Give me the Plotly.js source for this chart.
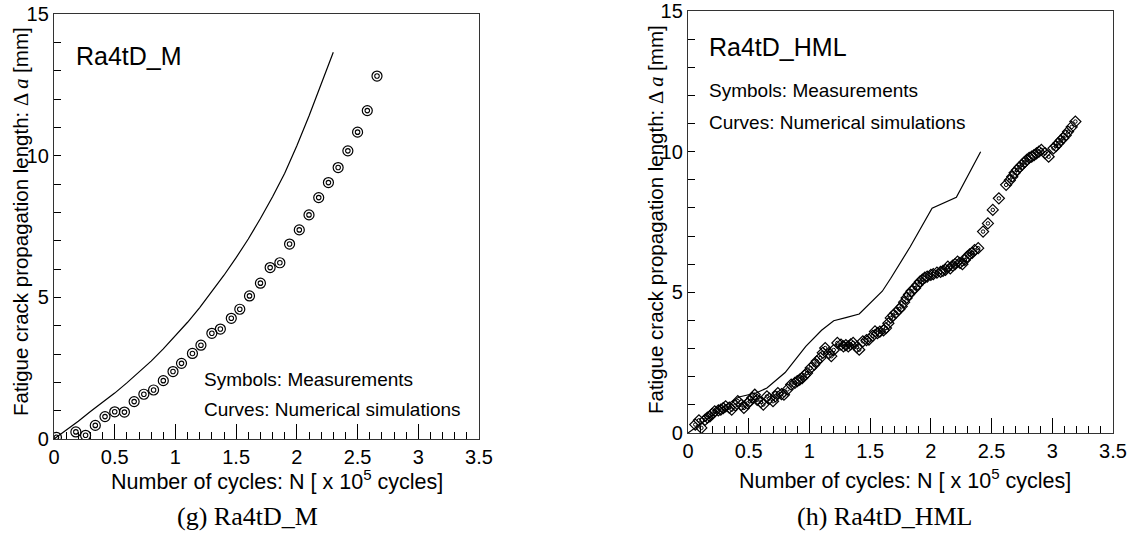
<!DOCTYPE html>
<html>
<head>
<meta charset="utf-8">
<script src="https://cdn.plot.ly/plotly-3.0.1.min.js"></script>
<style>html,body{margin:0;padding:0;background:#fff;}#chart{width:1134px;height:545px;}</style>
</head>
<body>
<div id="chart"></div>
<script>
// (g) Ra4tD_M — measurements
const mX = [0.02,0.18,0.26,0.34,0.42,0.50,0.58,0.66,0.74,0.82,0.90,0.98,1.05,1.14,1.21,1.30,1.37,1.46,1.53,1.61,1.70,1.78,1.86,1.94,2.02,2.10,2.18,2.26,2.34,2.42,2.50,2.58,2.66];
const mY = [0.06,0.25,0.13,0.48,0.79,0.96,0.95,1.32,1.58,1.73,2.06,2.38,2.67,3.02,3.31,3.73,3.88,4.26,4.58,5.05,5.50,6.05,6.22,6.88,7.38,7.91,8.52,9.05,9.58,10.17,10.83,11.59,12.81];
// (g) Ra4tD_M — simulation
const mSimX = [0,0.1,0.2,0.3,0.4,0.5,0.6,0.7,0.8,0.9,1.0,1.1,1.2,1.3,1.4,1.5,1.6,1.7,1.8,1.9,2.0,2.1,2.2,2.3];
const mSimY = [0,0.31,0.63,0.97,1.28,1.62,1.98,2.35,2.75,3.18,3.64,4.12,4.64,5.21,5.78,6.40,7.06,7.78,8.55,9.38,10.35,11.40,12.50,13.65];

// (h) Ra4tD_HML — measurements
const hX = [0.06,0.09,0.11,0.14,0.16,0.18,0.20,0.22,0.25,0.27,0.29,0.31,0.34,0.36,0.39,0.41,0.44,0.46,0.49,0.51,0.53,0.55,0.57,0.60,0.62,0.65,0.67,0.70,0.72,0.74,0.77,0.79,0.82,0.85,0.88,0.90,0.92,0.94,0.96,0.98,1.01,1.04,1.06,1.09,1.11,1.13,1.16,1.18,1.20,1.23,1.26,1.28,1.30,1.32,1.34,1.36,1.39,1.41,1.44,1.47,1.49,1.52,1.54,1.56,1.58,1.61,1.63,1.65,1.67,1.69,1.71,1.74,1.76,1.78,1.80,1.82,1.84,1.87,1.89,1.91,1.93,1.95,1.97,2.00,2.02,2.05,2.08,2.10,2.12,2.14,2.16,2.18,2.20,2.22,2.24,2.26,2.28,2.30,2.32,2.34,2.36,2.39,2.43,2.47,2.51,2.56,2.62,2.65,2.67,2.69,2.71,2.73,2.75,2.77,2.79,2.81,2.83,2.85,2.87,2.89,2.91,2.94,2.97,3.01,3.03,3.05,3.07,3.09,3.11,3.13,3.16,3.19];
const hY = [0.30,0.45,0.18,0.47,0.55,0.59,0.68,0.77,0.80,0.83,0.88,0.95,0.90,0.83,0.98,1.13,1.00,0.89,1.05,1.13,1.25,1.36,1.18,1.10,1.01,1.30,1.22,1.13,1.30,1.42,1.38,1.36,1.55,1.72,1.78,1.84,1.90,1.95,2.05,2.13,2.31,2.43,2.55,2.67,2.85,3.02,2.84,2.73,2.95,3.20,3.14,3.08,3.12,3.08,3.15,3.20,3.05,2.96,3.26,3.30,3.32,3.45,3.61,3.55,3.60,3.65,3.73,3.90,4.09,4.18,4.27,4.40,4.50,4.65,4.80,4.92,5.04,5.15,5.27,5.38,5.45,5.52,5.56,5.62,5.65,5.70,5.73,5.76,5.80,5.91,5.85,5.95,6.00,6.09,6.05,6.00,6.15,6.27,6.35,6.40,6.50,6.57,7.16,7.45,7.93,8.34,8.82,8.98,9.11,9.25,9.35,9.45,9.53,9.62,9.71,9.78,9.82,9.88,9.94,10.00,10.06,9.95,9.82,10.12,10.20,10.30,10.40,10.48,10.58,10.71,10.88,11.07];
// (h) Ra4tD_HML — simulation
const hSimX = [0,0.1,0.2,0.3,0.42,0.56,0.65,0.8,0.97,1.1,1.2,1.3,1.41,1.6,1.67,1.83,2.01,2.21,2.41];
const hSimY = [0,0.30,0.62,0.95,1.28,1.42,1.60,2.15,3.08,3.65,3.99,4.10,4.23,5.04,5.50,6.62,7.99,8.38,10.0];

const xTicks = [0,0.5,1,1.5,2,2.5,3,3.5];
const yTicks = [0,5,10,15];

const FONT = 'Liberation Sans, Arial, sans-serif';
const SERIF = 'Liberation Serif, Times New Roman, serif';

const lineStyle = {color:'#000', width:1.2};
const traces = [
  {x:mSimX, y:mSimY, mode:'lines', line:lineStyle, xaxis:'x', yaxis:'y'},
  {x:mX, y:mY, mode:'markers', marker:{symbol:'circle-open', size:10, color:'#000', line:{width:1.2, color:'#000'}}, xaxis:'x', yaxis:'y'},
  {x:mX, y:mY, mode:'markers', marker:{symbol:'circle-open', size:4.5, color:'#000', line:{width:1.1, color:'#000'}}, xaxis:'x', yaxis:'y'},
  {x:hSimX, y:hSimY, mode:'lines', line:lineStyle, xaxis:'x2', yaxis:'y2'},
  {x:hX, y:hY, mode:'markers', marker:{symbol:'diamond-open', size:8.5, color:'#000', line:{width:1.2, color:'#000'}}, xaxis:'x2', yaxis:'y2'},
  {x:hX, y:hY, mode:'markers', marker:{symbol:'circle-open', size:3.5, color:'#000', line:{width:1, color:'#000'}}, xaxis:'x2', yaxis:'y2'}
];

const xTitle = 'Number of cycles: N [ x 10<sup>5</sup> cycles]';
const yTitle = 'Fatigue crack propagation length: <span style="font-family:Liberation Serif">Δ <i>a</i></span> [mm]';

function xAxis(domain, anchor){
  return {
    domain: domain, anchor: anchor, range:[0,3.5], tickmode:'array', tickvals:xTicks, ticktext:xTicks.map(String),
    ticks:'inside', ticklen:15, tickcolor:'#000', tickwidth:1, layer:'above traces',
    minor:{dtick:0.1, ticks:'inside', ticklen:7, tickcolor:'#000', tickwidth:1},
    showline:true, linecolor:'#333', linewidth:1.2, mirror:true, showgrid:false, zeroline:false,
    tickfont:{family:FONT, size:20, color:'#000'},
    automargin:false, fixedrange:true
  };
}
function yAxis(domain, anchor){
  return {
    domain: domain, anchor: anchor, range:[0,15], tickmode:'array', tickvals:yTicks, ticktext:yTicks.map(String),
    ticks:'inside', ticklen:7, tickcolor:'#000', tickwidth:1, layer:'above traces',
    minor:{dtick:1, ticks:'inside', ticklen:7, tickcolor:'#000', tickwidth:1},
    showline:true, linecolor:'#333', linewidth:1.2, mirror:true, showgrid:false, zeroline:false,
    tickfont:{family:FONT, size:20, color:'#000'},
    automargin:false, fixedrange:true
  };
}

function ann(text, x, y, size, family, xanchor, angle){
  return {text:text, xref:'paper', yref:'paper', x:x/1134, y:1-y/545, xanchor:xanchor||'left', yanchor:'middle',
    textangle: angle||0, showarrow:false, font:{family:family||FONT, size:size, color:'#000'}};
}

const layout = {
  width:1134, height:545, margin:{l:0,r:0,t:0,b:0}, showlegend:false,
  paper_bgcolor:'#fff', plot_bgcolor:'rgba(0,0,0,0)',
  xaxis: xAxis([54/1134, 479/1134], 'y'),
  yaxis: yAxis([1-439/545, 1-14/545], 'x'),
  xaxis2: xAxis([688/1134, 1113/1134], 'y2'),
  yaxis2: yAxis([1-433/545, 1-11/545], 'x2'),
  annotations:[
    ann(xTitle, 277, 480, 21.5, FONT, 'center'),
    ann(xTitle, 905, 479, 21.5, FONT, 'center'),
    ann(yTitle, 20, 222, 20.5, FONT, 'center', -90),
    ann(yTitle, 655, 220, 20.5, FONT, 'center', -90),
    ann('Ra4tD_M', 74, 56, 25),
    ann('Symbols: Measurements', 202, 379, 19),
    ann('Curves: Numerical simulations', 202, 409, 19),
    ann('Ra4tD_HML', 707, 47, 25),
    ann('Symbols: Measurements', 707, 90, 19),
    ann('Curves: Numerical simulations', 707, 122, 19),
    ann('(g) Ra4tD_M', 247, 516, 26, SERIF, 'center'),
    ann('(h) Ra4tD_HML', 884, 516, 26, SERIF, 'center')
  ]
};

Plotly.newPlot('chart', traces, layout, {staticPlot:true});
</script>
</body>
</html>
